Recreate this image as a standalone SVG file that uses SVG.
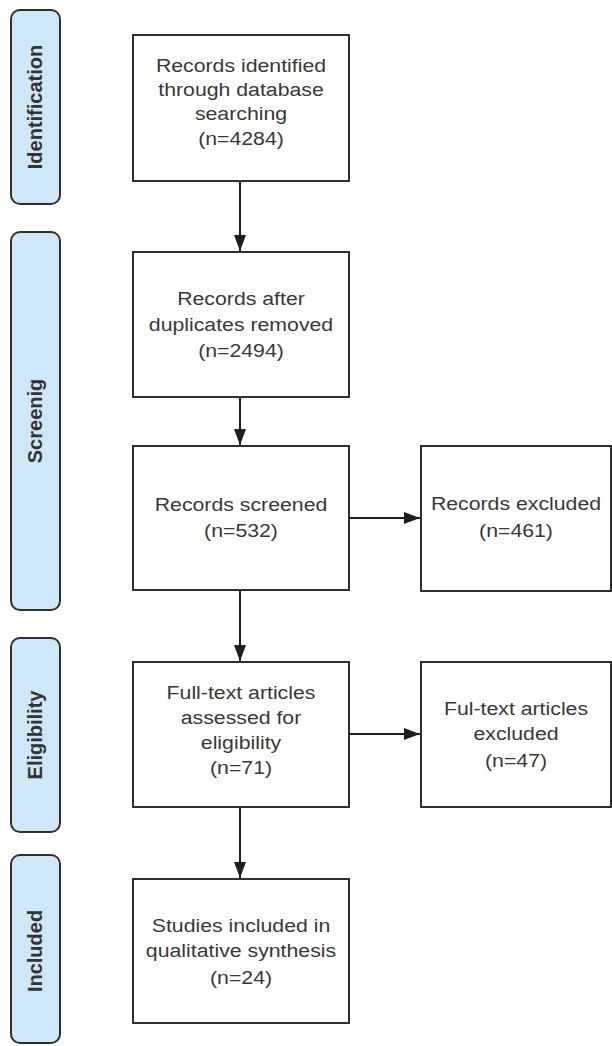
<svg xmlns="http://www.w3.org/2000/svg" width="612" height="1046" viewBox="0 0 612 1046">
<defs>
<style>
.bg{fill:#ffffff}
.box{fill:#ffffff;stroke:#2f2f2f;stroke-width:2}
.pill{fill:#cfe8f8;stroke:#2f2f2f;stroke-width:2}
.t{font-family:"Liberation Sans",Arial,sans-serif;font-size:19px;fill:#383838;text-anchor:middle}
.lt{font-family:"Liberation Sans",Arial,sans-serif;font-size:20px;font-weight:bold;fill:#333333;text-anchor:middle}
.edge{stroke:#1e1e1e;stroke-width:2;fill:none;marker-end:url(#ah)}
</style>
<marker id="ah" viewBox="0 0 16 12" refX="16" refY="6" markerWidth="16" markerHeight="12" markerUnits="userSpaceOnUse" orient="auto">
<path d="M0,0 L16,6 L0,12 Z" fill="#1e1e1e"/>
</marker>
</defs>
<rect class="bg" x="0" y="0" width="612" height="1046"/>

<g id="lane-identification">
<rect class="pill" x="11" y="10" width="49" height="194" rx="9"/>
<text class="lt" transform="translate(42,107) rotate(-90)">Identification</text>
</g>
<g id="lane-screening">
<rect class="pill" x="11" y="232" width="49" height="378" rx="9"/>
<text class="lt" transform="translate(42,421) rotate(-90)">Screenig</text>
</g>
<g id="lane-eligibility">
<rect class="pill" x="11" y="638" width="49" height="194" rx="9"/>
<text class="lt" transform="translate(42,735) rotate(-90)">Eligibility</text>
</g>
<g id="lane-included">
<rect class="pill" x="11" y="855" width="49" height="188" rx="9"/>
<text class="lt" transform="translate(42,951) rotate(-90)">Included</text>
</g>

<g id="connectors">
<line class="edge" x1="240" y1="182" x2="240" y2="251"/>
<line class="edge" x1="240" y1="398" x2="240" y2="445"/>
<line class="edge" x1="240" y1="591" x2="240" y2="661"/>
<line class="edge" x1="240" y1="808" x2="240" y2="878"/>
<line class="edge" x1="350" y1="518" x2="420" y2="518"/>
<line class="edge" x1="350" y1="734" x2="420" y2="734"/>
</g>

<g id="n-identified">
<rect class="box" x="133" y="35" width="216" height="146"/>
<g transform="translate(241,0) scale(1.12,1)">
<text class="t" x="0" y="72">Records identified</text>
<text class="t" x="0" y="96">through database</text>
<text class="t" x="0" y="120">searching</text>
<text class="t" x="0" y="145">(n=4284)</text>
</g>
</g>

<g id="n-duplicates">
<rect class="box" x="133" y="252" width="216" height="145"/>
<g transform="translate(241,0) scale(1.12,1)">
<text class="t" x="0" y="305">Records after</text>
<text class="t" x="0" y="331">duplicates removed</text>
<text class="t" x="0" y="357">(n=2494)</text>
</g>
</g>

<g id="n-screened">
<rect class="box" x="133" y="446" width="216" height="144"/>
<g transform="translate(241,0) scale(1.12,1)">
<text class="t" x="0" y="511">Records screened</text>
<text class="t" x="0" y="537">(n=532)</text>
</g>
</g>

<g id="n-excluded">
<rect class="box" x="421" y="446" width="190" height="145"/>
<g transform="translate(516,0) scale(1.12,1)">
<text class="t" x="0" y="510">Records excluded</text>
<text class="t" x="0" y="537">(n=461)</text>
</g>
</g>

<g id="n-fulltext">
<rect class="box" x="133" y="662" width="216" height="145"/>
<g transform="translate(241,0) scale(1.12,1)">
<text class="t" x="0" y="699">Full-text articles</text>
<text class="t" x="0" y="724">assessed for</text>
<text class="t" x="0" y="749">eligibility</text>
<text class="t" x="0" y="774">(n=71)</text>
</g>
</g>

<g id="n-fulltext-excluded">
<rect class="box" x="421" y="662" width="190" height="145"/>
<g transform="translate(516,0) scale(1.12,1)">
<text class="t" x="0" y="715">Ful-text articles</text>
<text class="t" x="0" y="740">excluded</text>
<text class="t" x="0" y="767">(n=47)</text>
</g>
</g>

<g id="n-included">
<rect class="box" x="133" y="879" width="216" height="144"/>
<g transform="translate(241,0) scale(1.12,1)">
<text class="t" x="0" y="932">Studies included in</text>
<text class="t" x="0" y="957">qualitative synthesis</text>
<text class="t" x="0" y="984">(n=24)</text>
</g>
</g>
</svg>
